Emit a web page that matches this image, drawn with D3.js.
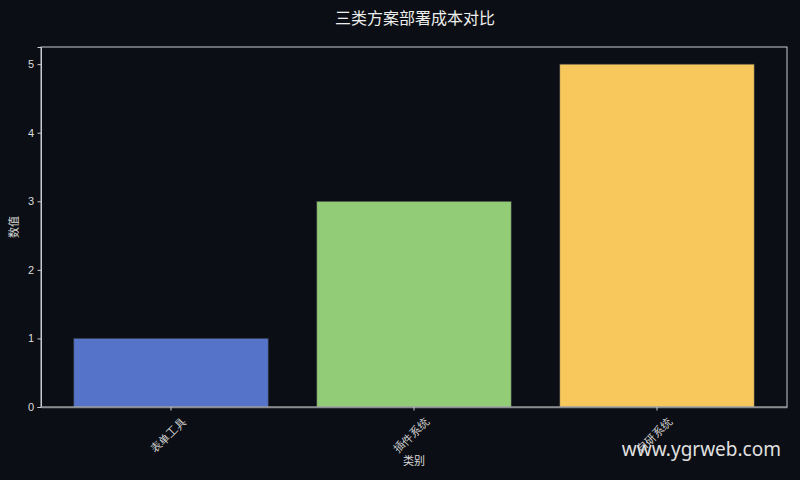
<!DOCTYPE html>
<html><head><meta charset="utf-8">
<script src="https://cdn.jsdelivr.net/npm/d3@7"></script>
<style>
html,body{margin:0;padding:0;background:#0b0e14;}
svg{display:block;font-family:"DejaVu Sans","Noto Sans CJK SC",sans-serif;}
</style></head>
<body>
<svg id="chart" width="800" height="480"></svg>
<script>
const categories = ["表单工具", "插件系统", "自研系统"];
const values = [1, 3, 5];
const colors = ["#5573c8", "#93cc76", "#f8c85c"];
const yTicks = [0, 1, 2, 3, 4, 5];
const title = "三类方案部署成本对比";
const xLabel = "类别";
const yLabel = "数值";

const svg = d3.select("#chart");
const W = 800, H = 480;
const m = {left: 41, right: 13, top: 47, bottom: 73};
const iw = W - m.left - m.right, ih = H - m.top - m.bottom;

svg.append("rect").attr("width", W).attr("height", H).attr("fill", "#0b0e14");

const x = d3.scaleBand().domain(categories).range([m.left, m.left + iw])
  .paddingInner(0.2).paddingOuter(0.135);
const y = d3.scaleLinear().domain([0, 5.25]).range([m.top + ih, m.top]);

// bars
svg.append("g").selectAll("rect").data(values).join("rect")
  .attr("x", (d, i) => x(categories[i]))
  .attr("y", d => y(d))
  .attr("width", x.bandwidth())
  .attr("height", d => y(0) - y(d))
  .attr("fill", (d, i) => colors[i])
  .attr("stroke", "#3a3d44").attr("stroke-width", 0.6);

// frame
svg.append("rect").attr("x", m.left).attr("y", m.top).attr("width", iw).attr("height", ih)
  .attr("fill", "none").attr("stroke", "#c9cbd0").attr("stroke-width", 1);

// y axis
const ya = svg.append("g").attr("transform", `translate(${m.left},0)`)
  .call(d3.axisLeft(y).tickValues(yTicks).tickFormat(d3.format("d")).tickSize(3.5).tickPadding(3.5));
ya.select(".domain").attr("stroke", "#c9cbd0");
ya.selectAll(".tick line").attr("stroke", "#c9cbd0");
ya.selectAll(".tick text").attr("fill", "#dcdcdc").attr("font-size", 11);

// x axis
const xa = svg.append("g").attr("transform", `translate(0,${m.top + ih})`)
  .call(d3.axisBottom(x).tickSize(3.5).tickSizeOuter(0).tickPadding(3));
xa.select(".domain").attr("stroke", "#8a8c90").attr("stroke-width", 1.5);
xa.selectAll(".tick line").attr("stroke", "#c9cbd0");
xa.selectAll(".tick text").attr("fill", "#dcdcdc").attr("font-size", 11)
  .attr("text-anchor", "end").attr("dy", "0.35em")
  .attr("transform", "translate(8,8) rotate(-45)");

// titles
svg.append("text").attr("x", 415).attr("y", 24).attr("text-anchor", "middle")
  .attr("fill", "#eeeeee").attr("font-size", 16).text(title);
svg.append("text").attr("x", m.left + iw / 2).attr("y", 465).attr("text-anchor", "middle")
  .attr("fill", "#dcdcdc").attr("font-size", 11).text(xLabel);
svg.append("text").attr("transform", `translate(18,${m.top + ih / 2}) rotate(-90)`)
  .attr("text-anchor", "middle").attr("fill", "#dcdcdc").attr("font-size", 11).text(yLabel);

// watermark
svg.append("text").attr("x", 781).attr("y", 456).attr("text-anchor", "end")
  .attr("fill", "#e0e0e0").attr("font-size", 19)
  .attr("font-family", "'Noto Sans','Open Sans',sans-serif")
  .text("www.ygrweb.com");
</script>
</body></html>
